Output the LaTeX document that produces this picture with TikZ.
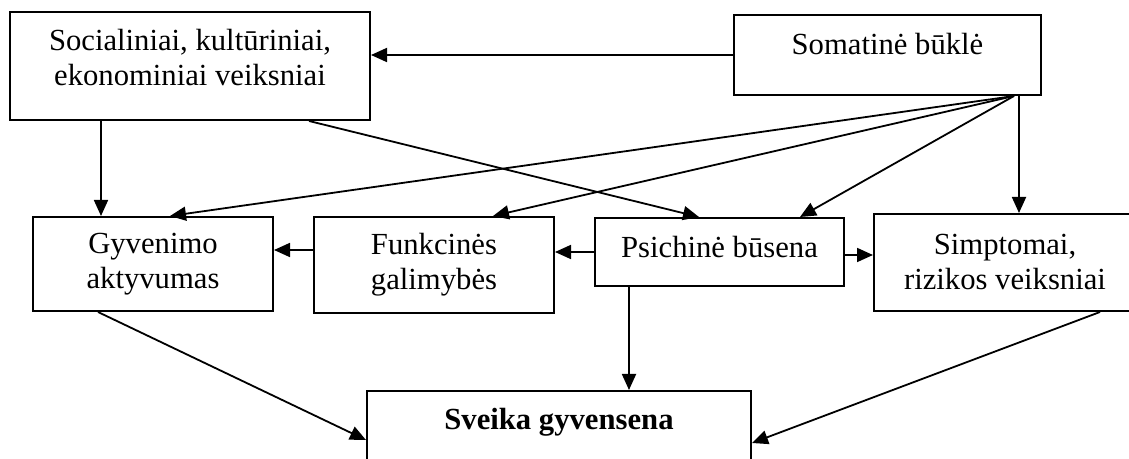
\documentclass[tikz,border=0pt]{standalone}
\usepackage{fontspec}
\setmainfont{Liberation Serif}
\usetikzlibrary{positioning, arrows.meta}

\begin{document}
\begin{tikzpicture}[x=0.75pt, y=-0.75pt,
        blok/.style={draw, line width=1.5pt, inner sep=0pt, align=center, font=\fontsize{23}{26.25}\selectfont},
        rod/.style={line width=1.35pt, -{Triangle[length=12pt, width=10.5pt]}}]
        \useasboundingbox (0,0) rectangle (1129,459);
        \clip (0,0) rectangle (1129,459);
        % upper row
        \node[blok, minimum width=270pt, minimum height=81pt, text depth=13.5pt] (soc) at (190,66) {Socialiniai, kultūriniai,\\ekonominiai veiksniai};
        \node[blok, minimum width=230.25pt, minimum height=60pt, text depth=16pt] (soma) at (887.5,55) {Somatinė būklė};
        % middle row
        \node[blok, minimum width=180pt, minimum height=70.5pt] (gyv) at (153,264) {Gyvenimo\\aktyvumas};
        \node[blok, minimum width=180pt, minimum height=72pt] (fun) at (434,265) {Funkcinės\\galimybės};
        \node[blok, minimum width=186.75pt, minimum height=51pt, text depth=8pt] (psi) at (719.5,252) {Psichinė būsena};
        \node[blok, minimum width=196.5pt, minimum height=72.75pt] (sim) at (1005,262.5) {Simptomai,\\rizikos veiksniai};
        % lower row
        \node[blok, font=\fontsize{23}{26.25}\selectfont\bfseries, minimum width=288pt, minimum height=58.5pt, text depth=16pt] (sve) at (559,430) {Sveika gyvensena};

        \coordinate (o) at ([shift={(-28,0)}]soma.south east);
        \draw[rod] (soma.west) -- (soma.west -| soc.east);
        \draw[rod] ([shift={(92,0)}]soc.south west) coordinate (s1) -- (s1 |- gyv.north);
        \draw[rod] ([shift={(300,0)}]soc.south west) -- ([shift={(105,0)}]psi.north west);
        \draw[rod] (o) -- ([shift={(17,0)}]gyv.north);
        \draw[rod] (o) -- ([shift={(59,0)}]fun.north);
        \draw[rod] (o) -- ([shift={(80.5,0)}]psi.north);
        \draw[rod] ([shift={(-23,0)}]soma.south east) coordinate (s2) -- (s2 |- sim.north);
        \draw[rod] ([shift={(0,-15)}]fun.west) coordinate (f1) -- (f1 -| gyv.east);
        \draw[rod] (psi.west) -- (psi.west -| fun.east);
        \draw[rod] ([shift={(0,3)}]psi.east) coordinate (p1) -- (p1 -| sim.west);
        \draw[rod] ([shift={(-55,0)}]gyv.south) -- ([shift={(0,10)}]sve.west);
        \draw[rod] ([shift={(35,0)}]psi.south west) coordinate (p2) -- (p2 |- sve.north);
        \draw[rod] ([shift={(95,0)}]sim.south) -- ([shift={(0,13)}]sve.east);
\end{tikzpicture}
\end{document}
